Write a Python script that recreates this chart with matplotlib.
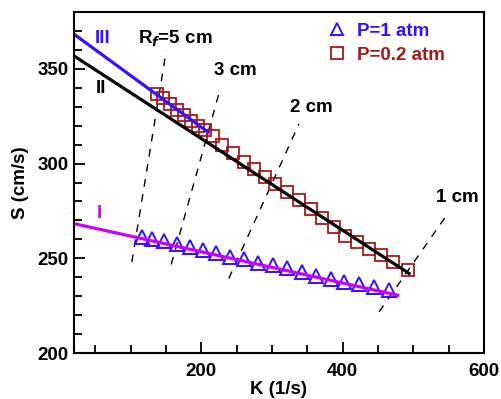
import matplotlib
matplotlib.use("Agg")
import matplotlib.pyplot as plt
from matplotlib.lines import Line2D
from matplotlib.ticker import MultipleLocator

plt.rcParams["font.family"] = ["Liberation Sans", "DejaVu Sans"]
plt.rcParams["font.weight"] = "bold"

BLUE = "#3311ff"
RED = "#a81818"
MAGENTA = "#cc00ff"

# P = 1 atm (triangles)
k_p1 = [116, 130, 147, 166, 184, 203, 221, 240, 260, 281, 302, 322,
        343, 362, 383, 402, 423, 445, 466]
s_p1 = [261.2, 260.0, 258.9, 257.4, 256.0, 254.4, 252.6, 250.9, 249.4, 247.6,
        246.3, 245.1, 242.6, 240.9, 239.1, 237.4, 236.2, 234.7, 233.0]

# P = 0.2 atm (squares)
k_p02 = [137, 146, 156, 166, 176, 186, 196, 206, 217, 230, 245, 260, 275,
         290, 305, 321, 338, 355, 371, 388, 404, 421, 437, 454, 471, 492]
s_p02 = [336.5, 334.5, 331.5, 328.5, 325.5, 322.5, 320.0, 317.5, 314.5, 310.0,
         305.5, 301.0, 297.0, 293.0, 289.0, 285.0, 280.5, 276.0, 271.0, 266.5,
         262.0, 258.5, 255.0, 251.5, 248.0, 244.0]

# fitted lines (end points)
line_I_k = [20, 478]
line_I_s = [268.3, 230.5]
line_II_k = [20, 494]
line_II_s = [356.8, 242.0]
line_III_k = [20, 210]
line_III_s = [368.3, 316.5]

# constant flame radius lines
rf_labels = ["R$_f$=5 cm", "3 cm", "2 cm", "1 cm"]
rf_k = [[101.8, 150.5], [157.6, 227.1], [238.9, 338.2], [451.6, 548.6]]
rf_s = [[248.0, 359.5], [246.8, 339.8], [239.3, 320.9], [221.7, 273.5]]
rf_label_k = [110, 218, 326, 532]
rf_label_s = [365.8, 349.0, 329.6, 282.0]

fig = plt.figure(figsize=(5.02, 3.99), dpi=100)
ax = fig.add_axes([74 / 502, 46 / 399, 410 / 502, 341 / 399])

for k, s in zip(rf_k, rf_s):
    ax.plot(k, s, color="black", lw=1.0, ls=(0, (5.5, 5.5)))
for lab, x, y in zip(rf_labels, rf_label_k, rf_label_s):
    ax.text(x, y, lab, fontsize=13.5, fontweight="bold", va="center", ha="left")

ax.plot(k_p02, s_p02, ls="none", marker="s", ms=8.5, mfc="none", mec=RED, mew=1.3)
ax.plot(k_p1, s_p1, ls="none", marker="^", ms=10, mfc="none", mec=BLUE, mew=1.4)

ax.plot(line_III_k, line_III_s, color=BLUE, lw=2.3)
ax.plot(line_II_k, line_II_s, color="black", lw=2.3)
ax.plot(line_I_k, line_I_s, color=MAGENTA, lw=2.3)

ax.text(50, 365.8, "III", color=BLUE, fontsize=13.5, fontweight="bold", va="center")
ax.text(51, 339.5, "II", color="black", fontsize=13.5, fontweight="bold", va="center")
ax.text(52, 273.5, "I", color=MAGENTA, fontsize=13.5, fontweight="bold", va="center")

handles = [
    Line2D([], [], ls="none", marker="^", ms=9, mfc="none", mec=BLUE, mew=1.4),
    Line2D([], [], ls="none", marker="s", ms=8, mfc="none", mec=RED, mew=1.3),
]
leg = ax.legend(handles, ["P=1 atm", "P=0.2 atm"], loc="upper left",
                bbox_to_anchor=(0.60, 0.99), frameon=False, fontsize=13.5,
                handlelength=1.0, handletextpad=0.6, labelspacing=0.35,
                borderaxespad=0)
for txt, c in zip(leg.get_texts(), [BLUE, RED]):
    txt.set_color(c)
    txt.set_fontweight("bold")

ax.set_xlim(20, 600)
ax.set_ylim(200, 380)
ax.xaxis.set_major_locator(MultipleLocator(200))
ax.xaxis.set_minor_locator(MultipleLocator(50))
ax.yaxis.set_major_locator(MultipleLocator(50))
ax.yaxis.set_minor_locator(MultipleLocator(10))
ax.tick_params(which="both", direction="in", top=False, right=False, width=1.3,
               labelsize=13.5)
ax.tick_params(which="major", length=8)
ax.tick_params(which="minor", length=5.5)
ax.tick_params(axis="x", pad=7)
ax.tick_params(axis="y", pad=4)
for sp in ax.spines.values():
    sp.set_linewidth(1.5)

ax.set_xlabel("K (1/s)", fontsize=13.5, fontweight="bold", labelpad=1)
ax.set_ylabel("S (cm/s)", fontsize=13.5, fontweight="bold", labelpad=6)

fig.savefig("out.png", dpi=100)
